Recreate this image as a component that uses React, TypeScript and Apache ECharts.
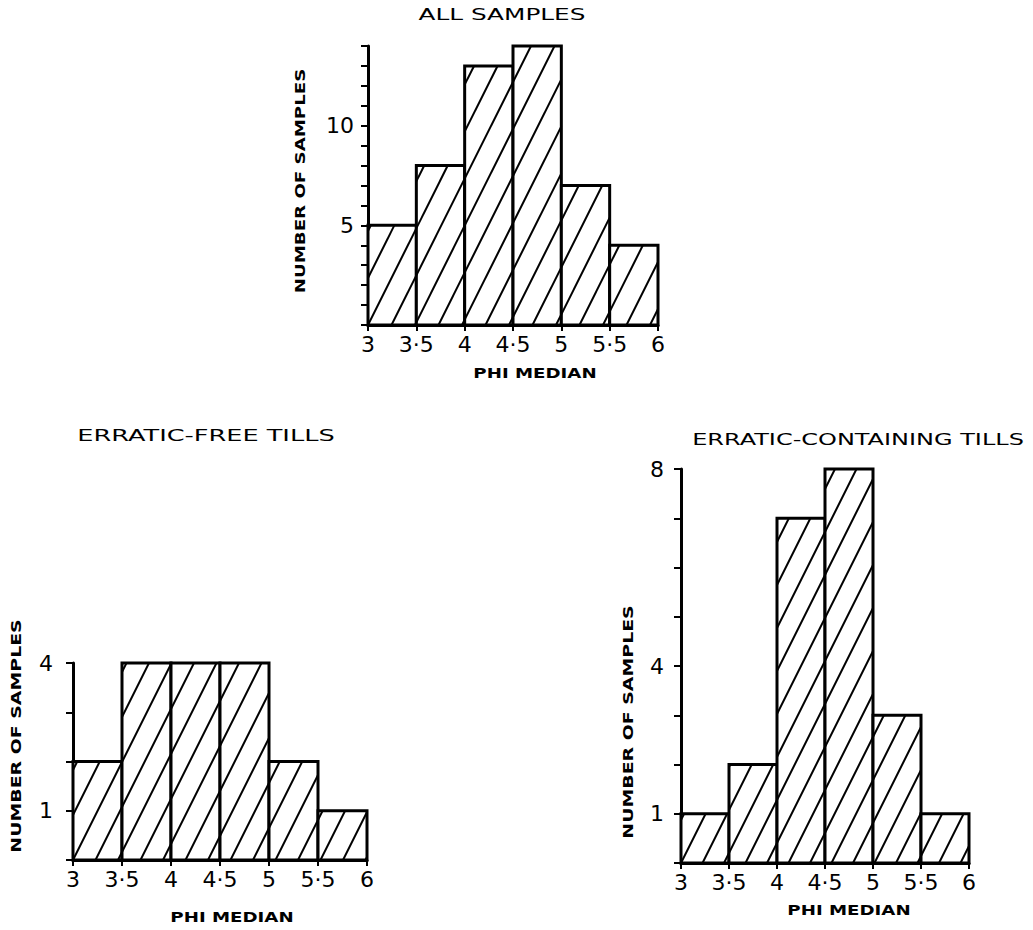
import React, { useEffect, useRef } from 'react';
import * as echarts from 'echarts';

// ---- data ----
const binEdges = [3, 3.5, 4, 4.5, 5, 5.5, 6];
const xTickLabels = ['3', '3·5', '4', '4·5', '5', '5·5', '6'];
const allSamplesCounts = [5, 8, 13, 14, 7, 4];
const erraticFreeCounts = [2, 4, 4, 4, 2, 1];
const erraticContainingCounts = [1, 2, 7, 8, 3, 1];
const allYMax = 14;
const freeYMax = 4;
const containingYMax = 8;
const allYLabels = [5, 10];
const freeYLabels = [1, 4];
const containingYLabels = [1, 4, 8];
const chartTitles = ['ALL SAMPLES', 'ERRATIC-FREE TILLS', 'ERRATIC-CONTAINING TILLS'];
const yAxisName = 'NUMBER OF SAMPLES';
const xAxisName = 'PHI MEDIAN';

const FONT = 'DejaVu Sans, Noto Sans, sans-serif';

function toBins(counts: number[]) {
  return counts.map((c, i) => [binEdges[i], binEdges[i + 1], c]);
}

function makeRenderItem(spacing: number, slope: number) {
  return (params: any, api: any) => {
    const x0 = api.value(0);
    const x1 = api.value(1);
    const v = api.value(2);
    const pBL = api.coord([x0, 0]);
    const pTR = api.coord([x1, v]);
    const origin = api.coord([binEdges[0], 0]);
    const xl = pBL[0], xr = pTR[0], yb = pBL[1], yt = pTR[1];
    const B = origin[1], X0 = origin[0];
    const children: any[] = [];
    children.push({
      type: 'rect',
      shape: { x: xl, y: yt, width: xr - xl, height: yb - yt },
      style: { fill: '#fff' },
    });
    const kMin = Math.floor((xl - X0 - (B - yt) * slope) / spacing) - 1;
    const kMax = Math.ceil((xr - X0 - (B - yb) * slope) / spacing) + 1;
    for (let k = kMin; k <= kMax; k++) {
      const c = X0 + k * spacing;
      const yLow = Math.max(yt, B - (xr - c) / slope);
      const yHigh = Math.min(yb, B - (xl - c) / slope);
      if (yHigh - yLow > 1.5) {
        children.push({
          type: 'line',
          shape: { x1: c + (B - yHigh) * slope, y1: yHigh, x2: c + (B - yLow) * slope, y2: yLow },
          style: { stroke: '#000', lineWidth: 2 },
        });
      }
    }
    children.push({
      type: 'rect',
      shape: { x: xl, y: yt, width: xr - xl, height: yb - yt },
      style: { fill: 'none', stroke: '#000', lineWidth: 3 },
    });
    return { type: 'group', children };
  };
}

function xAxisFor(gridIndex: number) {
  return {
    type: 'value',
    gridIndex,
    min: 3,
    max: 6,
    interval: 0.5,
    axisLine: { show: true, onZero: false, lineStyle: { color: '#000', width: 3 } },
    axisTick: { show: true, inside: false, length: 6, lineStyle: { color: '#000', width: 2 } },
    splitLine: { show: false },
    axisLabel: {
      color: '#000',
      fontFamily: FONT,
      fontSize: 22,
      margin: 8,
      showMinLabel: true,
      showMaxLabel: true,
      formatter: (v: number) => {
        const i = binEdges.findIndex((e) => Math.abs(e - v) < 1e-6);
        return i >= 0 ? xTickLabels[i] : '';
      },
    },
  };
}

function yAxisFor(gridIndex: number, max: number, labels: number[], margin: number) {
  return {
    type: 'value',
    gridIndex,
    min: 0,
    max,
    interval: 1,
    axisLine: { show: true, onZero: false, lineStyle: { color: '#000', width: 3 } },
    axisTick: { show: true, inside: false, length: 7, lineStyle: { color: '#000', width: 2 } },
    splitLine: { show: false },
    axisLabel: {
      color: '#000',
      fontFamily: FONT,
      fontSize: 22,
      margin,
      showMinLabel: true,
      showMaxLabel: true,
      formatter: (v: number) => (labels.indexOf(v) >= 0 ? String(v) : ''),
    },
  };
}

function textEl(text: string, x: number, y: number, fontSize: number, scaleX: number, weight: string, rotation = 0) {
  return {
    type: 'text',
    x,
    y,
    rotation,
    scaleX,
    style: {
      text,
      fill: '#000',
      fontFamily: FONT,
      fontSize,
      fontWeight: weight,
      textAlign: 'center',
      textVerticalAlign: 'middle',
    },
  };
}

export default function App() {
  const ref = useRef<HTMLDivElement>(null);
  useEffect(() => {
    if (!ref.current) return;
    const chart = echarts.init(ref.current, undefined, { renderer: 'svg' });
    const option: any = {
      animation: false,
      backgroundColor: '#fff',
      grid: [
        { left: 368, top: 46, width: 290, height: 279, containLabel: false },
        { left: 73, top: 663, width: 294, height: 197, containLabel: false },
        { left: 681, top: 469, width: 288, height: 394, containLabel: false },
      ],
      xAxis: [xAxisFor(0), xAxisFor(1), xAxisFor(2)],
      yAxis: [
        yAxisFor(0, allYMax, allYLabels, 14),
        yAxisFor(1, freeYMax, freeYLabels, 20),
        yAxisFor(2, containingYMax, containingYLabels, 17),
      ],
      series: [
        {
          type: 'custom',
          xAxisIndex: 0,
          yAxisIndex: 0,
          renderItem: makeRenderItem(23.5, 0.5),
          encode: { x: [0, 1], y: 2 },
          data: toBins(allSamplesCounts),
        },
        {
          type: 'custom',
          xAxisIndex: 1,
          yAxisIndex: 1,
          renderItem: makeRenderItem(22.5, 0.5),
          encode: { x: [0, 1], y: 2 },
          data: toBins(erraticFreeCounts),
        },
        {
          type: 'custom',
          xAxisIndex: 2,
          yAxisIndex: 2,
          renderItem: makeRenderItem(21.5, 0.5),
          encode: { x: [0, 1], y: 2 },
          data: toBins(erraticContainingCounts),
        },
      ],
      graphic: [
        textEl(chartTitles[0], 502, 15, 15, 1.65, 'normal'),
        textEl(chartTitles[1], 206, 435, 16, 1.6, 'normal'),
        textEl(chartTitles[2], 858, 440, 16, 1.5, 'normal'),
        textEl(yAxisName, 300, 181, 14, 1.3, '600', Math.PI / 2),
        textEl(yAxisName, 16, 736, 14, 1.35, '600', Math.PI / 2),
        textEl(yAxisName, 628, 722, 14, 1.35, '600', Math.PI / 2),
        textEl(xAxisName, 535, 373, 14, 1.3, '600'),
        textEl(xAxisName, 232, 917, 14, 1.3, '600'),
        textEl(xAxisName, 849, 910, 14, 1.3, '600'),
      ],
    };
    chart.setOption(option);
    return () => chart.dispose();
  }, []);
  return (
    <div
      ref={ref}
      style={{ position: 'absolute', left: 0, top: 0, width: 1033, height: 930, background: '#fff' }}
    />
  );
}
